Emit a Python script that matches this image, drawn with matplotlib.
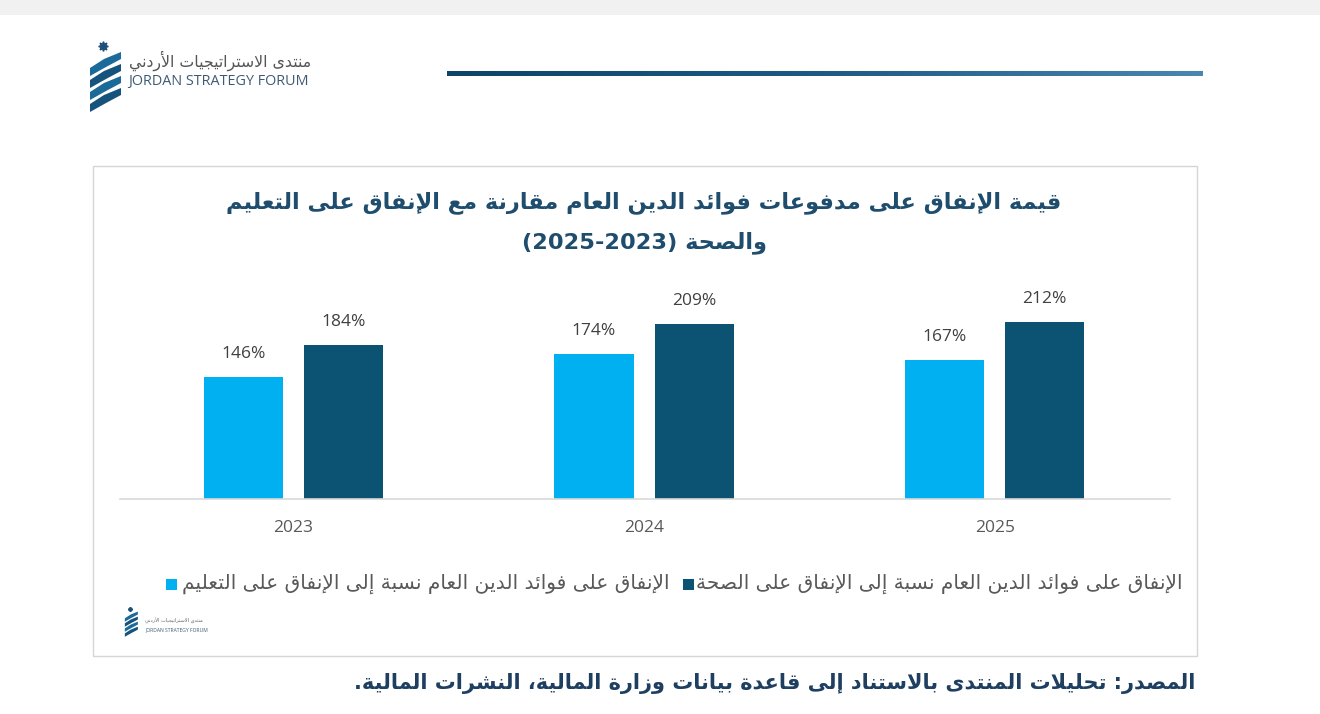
import re
import matplotlib
matplotlib.use("Agg")
import matplotlib.pyplot as plt
import matplotlib.patches as mpatches
from matplotlib.colors import LinearSegmentedColormap
import numpy as np

# ---------------- data ----------------
years = ["2023", "2024", "2025"]
education_ratio = [146, 174, 167]
health_ratio = [184, 209, 212]
label_education = "الإنفاق على فوائد الدين العام نسبة إلى الإنفاق على التعليم"
label_health = "الإنفاق على فوائد الدين العام نسبة إلى الإنفاق على الصحة"
title_line1 = "قيمة الإنفاق على مدفوعات فوائد الدين العام مقارنة مع الإنفاق على التعليم"
title_line2 = "والصحة (2023-2025)"
source_text = "المصدر: تحليلات المنتدى بالاستناد إلى قاعدة بيانات وزارة المالية، النشرات المالية."
logo_ar = "منتدى الاستراتيجيات الأردني"
logo_en = "JORDAN STRATEGY FORUM"

# ---------------- minimal Arabic shaping ----------------
_spec = [(0x0621, 0xFE80, 1), (0x0622, 0xFE81, 2), (0x0623, 0xFE83, 2), (0x0624, 0xFE85, 2),
         (0x0625, 0xFE87, 2), (0x0626, 0xFE89, 4), (0x0627, 0xFE8D, 2), (0x0628, 0xFE8F, 4),
         (0x0629, 0xFE93, 2), (0x062A, 0xFE95, 4), (0x062B, 0xFE99, 4), (0x062C, 0xFE9D, 4),
         (0x062D, 0xFEA1, 4), (0x062E, 0xFEA5, 4), (0x062F, 0xFEA9, 2), (0x0630, 0xFEAB, 2),
         (0x0631, 0xFEAD, 2), (0x0632, 0xFEAF, 2), (0x0633, 0xFEB1, 4), (0x0634, 0xFEB5, 4),
         (0x0635, 0xFEB9, 4), (0x0636, 0xFEBD, 4), (0x0637, 0xFEC1, 4), (0x0638, 0xFEC5, 4),
         (0x0639, 0xFEC9, 4), (0x063A, 0xFECD, 4), (0x0641, 0xFED1, 4), (0x0642, 0xFED5, 4),
         (0x0643, 0xFED9, 4), (0x0644, 0xFEDD, 4), (0x0645, 0xFEE1, 4), (0x0646, 0xFEE5, 4),
         (0x0647, 0xFEE9, 4), (0x0648, 0xFEED, 2), (0x0649, 0xFEEF, 2), (0x064A, 0xFEF1, 4)]
FORMS = {chr(c): tuple(chr(s + k) for k in range(n)) for c, s, n in _spec}
LAMALEF = {"\u0622": ("\uFEF5", "\uFEF6"), "\u0623": ("\uFEF7", "\uFEF8"),
           "\u0625": ("\uFEF9", "\uFEFA"), "\u0627": ("\uFEFB", "\uFEFC")}


def _dual(c):
    return c in FORMS and len(FORMS[c]) == 4


def shape(s):
    out = []
    i = 0
    n = len(s)
    while i < n:
        c = s[i]
        if c not in FORMS:
            out.append(c)
            i += 1
            continue
        prev = s[i - 1] if i > 0 else None
        cp = prev is not None and _dual(prev)
        if c == "\u0644" and i + 1 < n and s[i + 1] in LAMALEF:
            lig = LAMALEF[s[i + 1]]
            out.append(lig[1] if cp else lig[0])
            i += 2
            continue
        nxt = s[i + 1] if i + 1 < n else None
        cn = _dual(c) and nxt is not None and nxt in FORMS
        f = FORMS[c]
        if len(f) == 1:
            out.append(f[0])
        elif cp and cn:
            out.append(f[3])
        elif cp:
            out.append(f[1])
        elif cn:
            out.append(f[2])
        else:
            out.append(f[0])
        i += 1
    return "".join(out)


def ar(s):
    r = shape(s)[::-1]
    r = re.sub(r"[0-9A-Za-z%]+", lambda m: m.group(0)[::-1], r)
    return r.translate(str.maketrans("()", ")("))


# ---------------- figure ----------------
W, H = 1320, 714
fig = plt.figure(figsize=(W / 100, H / 100), dpi=100)
fig.patch.set_facecolor("white")


def fx(x):
    return x / W


def fy(y):
    return 1 - y / H


AR_FONT = ["DejaVu Sans"]
NUM_FONT = ["Open Sans", "DejaVu Sans"]

# top grey band
fig.patches.append(mpatches.Rectangle((0, fy(15)), 1, 15 / H, transform=fig.transFigure,
                                      facecolor="#f1f1f1", edgecolor="none", zorder=-2))


def draw_logo(x0, y0, s):
    # stylised stripes + star; x0,y0 = top-left in px, s = scale
    col1, col2 = "#1c6a99", "#15527c"
    for k in range(4):
        yt = y0 + (26 + 12 * k) * s
        pts = [(x0 + 2 * s, yt + 8 * s), (x0 + 16 * s, yt - 1 * s), (x0 + 33 * s, yt - 8 * s),
               (x0 + 33 * s, yt - 1 * s), (x0 + 18 * s, yt + 7 * s), (x0 + 2 * s, yt + 16 * s)]
        poly = mpatches.Polygon([(fx(px), fy(py)) for px, py in pts], closed=True,
                                transform=fig.transFigure, facecolor=col1 if k % 2 == 0 else col2,
                                edgecolor="none")
        fig.patches.append(poly)
    fig.lines.append(plt.Line2D([fx(x0 + 15 * s)], [fy(y0 + 12 * s)], marker=(8, 1, 0),
                                markersize=7 * s, color="#1c4f7a", transform=fig.transFigure))


draw_logo(88, 34, 1.0)
fig.text(fx(311), fy(61), ar(logo_ar), ha="right", va="center", fontsize=11.3,
         family=AR_FONT, color="#555555")
fig.text(fx(128), fy(82), logo_en, ha="left", va="center", fontsize=10.4,
         family=["Open Sans"], color="#3e5a72")

# gradient rule
lax = fig.add_axes([fx(447), fy(76), fx(1203) - fx(447), 5 / H])
grad = np.linspace(0, 1, 256)[None, :]
cm = LinearSegmentedColormap.from_list("g", ["#0d4468", "#1d5b84", "#4a86ad"])
lax.imshow(grad, aspect="auto", cmap=cm)
lax.set_axis_off()

# chart box
fig.patches.append(mpatches.Rectangle((fx(93), fy(656)), (1197 - 93) / W, (656 - 166) / H,
                                      transform=fig.transFigure, facecolor="none",
                                      edgecolor="#d6d6d6", linewidth=1.0, zorder=-1))

# title
title_col = "#1f4d6d"
fig.text(fx(644), fy(203), ar(title_line1), ha="center", va="center", fontsize=16.2,
         family=AR_FONT, fontweight="bold", color=title_col)
fig.text(fx(645), fy(243), ar(title_line2), ha="center", va="center", fontsize=16.2,
         family=AR_FONT, fontweight="bold", color=title_col)

# bars
ax = fig.add_axes([fx(120), fy(499), (1170 - 120) / W, (499 - 290) / H])
ax.set_facecolor("none")
x = np.arange(len(years))
bw = 79 / 350
off = 50 / 350
c_edu, c_hea = "#00b0f0", "#0b5273"
b1 = ax.bar(x - off, education_ratio, bw, color=c_edu, zorder=2)
b2 = ax.bar(x + off, health_ratio, bw, color=c_hea, zorder=2)
ax.set_xlim(-0.495, 2.5)
ax.set_ylim(0, (499 - 290) / 0.835)
for bars, vals in ((b1, education_ratio), (b2, health_ratio)):
    for r, v in zip(bars, vals):
        ax.annotate(f"{v}%", (r.get_x() + r.get_width() / 2, v), xytext=(0, 23),
                    textcoords="offset pixels", ha="center", va="center",
                    fontsize=12.5, family=NUM_FONT, color="#404040")
for s in ("top", "right", "left"):
    ax.spines[s].set_visible(False)
ax.spines["bottom"].set_color("#d9d9d9")
ax.spines["bottom"].set_linewidth(1.2)
ax.set_yticks([])
ax.set_xticks(x)
ax.set_xticklabels(years, fontsize=12.5, family=NUM_FONT, color="#595959")
ax.tick_params(axis="x", length=0, pad=15)

# legend (manual, right-to-left)
fig.canvas.draw()
rend = fig.canvas.get_renderer()
leg_y = 584
leg_fs = 14.5
t1 = fig.text(fx(1182), fy(leg_y), ar(label_health), ha="right", va="center", fontsize=leg_fs,
              family=AR_FONT, color="#595959")
bb1 = t1.get_window_extent(rend)
sq = 11
right1 = bb1.x0 - 2
fig.patches.append(mpatches.Rectangle(((right1 - sq) / W, fy(leg_y) - sq / 2 / H), sq / W, sq / H,
                                      transform=fig.transFigure, facecolor=c_hea, edgecolor="none"))
t2_right = right1 - sq - 13
t2 = fig.text(t2_right / W, fy(leg_y), ar(label_education), ha="right", va="center", fontsize=leg_fs,
              family=AR_FONT, color="#595959")
bb2 = t2.get_window_extent(rend)
right2 = bb2.x0 - 5
fig.patches.append(mpatches.Rectangle(((right2 - sq) / W, fy(leg_y) - sq / 2 / H), sq / W, sq / H,
                                      transform=fig.transFigure, facecolor=c_edu, edgecolor="none"))

# small logo inside chart box
draw_logo(124, 604, 0.42)
fig.text(fx(145), fy(621), ar(logo_ar), ha="left", va="center", fontsize=3.6,
         family=AR_FONT, color="#666666")
fig.text(fx(145), fy(630), logo_en, ha="left", va="center", fontsize=3.6,
         family=["Open Sans"], color="#3e5a72")

# source
fig.text(fx(1195), fy(683), ar(source_text), ha="right", va="center", fontsize=15,
         family=AR_FONT, fontweight="bold", color="#1e3f5f")

fig.savefig("out.png", dpi=100, facecolor="white")
